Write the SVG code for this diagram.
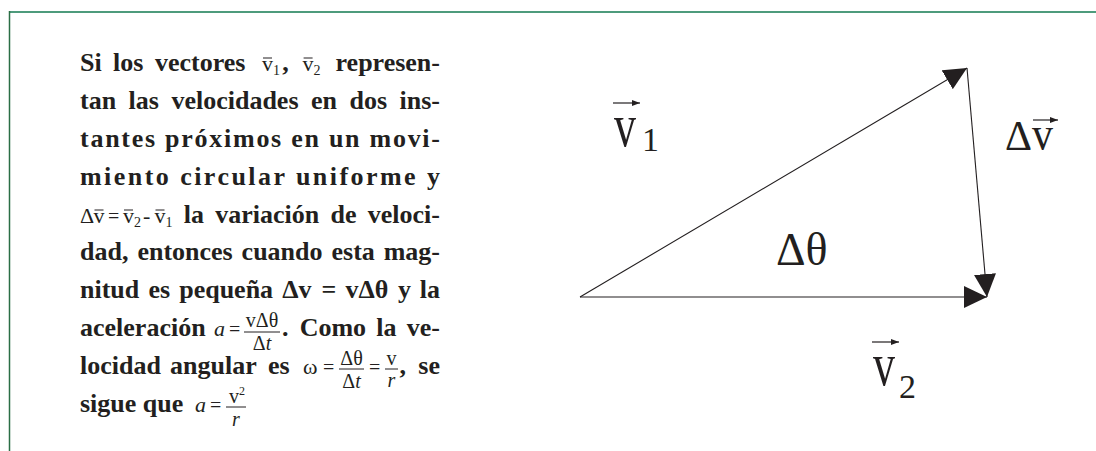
<svg xmlns="http://www.w3.org/2000/svg" width="1096" height="451" viewBox="0 0 1096 451">
<style>
.b{font-family:"Liberation Serif","Times New Roman",serif;font-weight:bold;font-size:26px;fill:#231f20}
.m{font-family:"Liberation Serif","Times New Roman",serif;font-size:22px;fill:#231f20}
.f{font-size:20px}
.mi{font-style:italic}
.s{font-size:14px}
.eq{font-size:20px}
.sup{font-size:12px}
.rule{stroke:#231f20;stroke-width:1;fill:none}
.vec{stroke:#231f20;stroke-width:1.1;fill:none}
.acc{stroke:#231f20;stroke-width:1.2;fill:none}
.lbl{font-family:"Liberation Serif","Times New Roman",serif;fill:#231f20}
</style>
<defs>
<marker id="ah" viewBox="0 0 23 22" markerWidth="23" markerHeight="22" refX="23" refY="11" orient="auto" markerUnits="userSpaceOnUse">
<path d="M0,0 L23,11 L0,22 Z" fill="#231f20"/>
</marker>
<marker id="sa" viewBox="0 0 8 6" markerWidth="8" markerHeight="6" refX="8" refY="3" orient="auto" markerUnits="userSpaceOnUse">
<path d="M0,0 L8,3 L0,6 Z" fill="#231f20"/>
</marker>
</defs>
<rect x="0" y="0" width="1096" height="451" fill="#ffffff"/>
<g id="frame">
<line x1="9" y1="12" x2="1096" y2="12" stroke="#4e9b7c" stroke-width="2"/>
<line x1="9.5" y1="11" x2="9.5" y2="451" stroke="#2a6e45" stroke-width="1.5"/>
</g>
<g id="paragraph">
<!-- line 1 -->
<text class="b" y="71"><tspan x="80">Si</tspan><tspan x="113">los</tspan><tspan x="155">vectores</tspan><tspan x="282.3">,</tspan></text>
<text class="b" x="440" y="71" text-anchor="end">represen-</text>
<text class="m" x="262" y="71">v</text><line class="rule" x1="263" y1="58" x2="272" y2="58"/><text class="m s" x="273" y="75">1</text>
<text class="m" x="302.6" y="71">v</text><line class="rule" x1="303.6" y1="58" x2="312.6" y2="58"/><text class="m s" x="313.6" y="75">2</text>
<!-- line 2 -->
<text class="b" y="109"><tspan x="80">tan</tspan><tspan x="128.6">las</tspan><tspan x="171.4">velocidades</tspan><tspan x="311">en</tspan><tspan x="349.5">dos</tspan></text>
<text class="b" x="440" y="109" text-anchor="end">ins-</text>
<!-- line 3 -->
<text class="b" x="80" y="147" textLength="360" lengthAdjust="spacing">tantes próximos en un movi-</text>
<!-- line 4 -->
<text class="b" x="80" y="185" textLength="360" lengthAdjust="spacing">miento circular uniforme y</text>
<!-- line 5 -->
<text class="m" x="80" y="223">Δ</text>
<text class="m" x="93.5" y="223">v</text><line class="rule" x1="94.5" y1="210" x2="103.5" y2="210"/>
<text class="m eq" x="108" y="223">=</text>
<text class="m" x="123" y="223">v</text><line class="rule" x1="124" y1="210" x2="133" y2="210"/><text class="m s" x="134" y="227">2</text>
<text class="m" x="143" y="223">-</text>
<text class="m" x="154.5" y="223">v</text><line class="rule" x1="155.5" y1="210" x2="164.5" y2="210"/><text class="m s" x="165.5" y="227">1</text>
<text class="b" y="223"><tspan x="183.8">la</tspan><tspan x="215.3">variación</tspan><tspan x="330.6">de</tspan></text>
<text class="b" x="440" y="223" text-anchor="end">veloci-</text>
<!-- line 6 -->
<text class="b" y="260"><tspan x="80">dad,</tspan><tspan x="137.4">entonces</tspan><tspan x="241.6">cuando</tspan><tspan x="331.5">esta</tspan></text>
<text class="b" x="440" y="260" text-anchor="end">mag-</text>
<!-- line 7 -->
<text class="b" y="298"><tspan x="80">nitud</tspan><tspan x="148.4">es</tspan><tspan x="179.2">pequeña</tspan><tspan x="282.2">Δv</tspan><tspan x="321.6">=</tspan><tspan x="345.5">vΔθ</tspan><tspan x="397.9">y</tspan></text>
<text class="b" x="440" y="298" text-anchor="end">la</text>
<!-- line 8 -->
<text class="b" x="80" y="336">aceleración</text>
<text class="m mi" x="214" y="336">a</text>
<text class="m eq" x="229" y="336">=</text>
<text class="m f" x="262" y="327" text-anchor="middle">vΔθ</text>
<line class="rule" x1="244" y1="332" x2="280" y2="332"/>
<text class="m f" x="262" y="350" text-anchor="middle">Δ<tspan class="mi">t</tspan></text>
<text class="b" y="336"><tspan x="282">.</tspan><tspan x="299.7">Como</tspan><tspan x="376.3">la</tspan></text>
<text class="b" x="440" y="336" text-anchor="end">ve-</text>
<!-- line 9 -->
<text class="b" y="374"><tspan x="80">locidad</tspan><tspan x="170">angular</tspan><tspan x="268">es</tspan></text>
<text class="m" x="303" y="374">ω</text>
<text class="m eq" x="323" y="374">=</text>
<text class="m f" x="351.5" y="365" text-anchor="middle">Δθ</text>
<line class="rule" x1="339" y1="369" x2="364" y2="369"/>
<text class="m f" x="351.5" y="388" text-anchor="middle">Δ<tspan class="mi">t</tspan></text>
<text class="m eq" x="369" y="374">=</text>
<text class="m f" x="391.5" y="365" text-anchor="middle">v</text>
<line class="rule" x1="385" y1="369" x2="398" y2="369"/>
<text class="m f mi" x="391.5" y="387" text-anchor="middle">r</text>
<text class="b" x="399.6" y="374">,</text>
<text class="b" x="440" y="374" text-anchor="end">se</text>
<!-- line 10 -->
<text class="b" y="412"><tspan x="80">sigue</tspan><tspan x="142.8">que</tspan></text>
<text class="m mi" x="195" y="412">a</text>
<text class="m eq" x="210" y="412">=</text>
<text class="m f" x="229" y="403">v<tspan class="sup" dy="-8">2</tspan></text>
<line class="rule" x1="226" y1="407" x2="246" y2="407"/>
<text class="m f mi" x="236" y="426" text-anchor="middle">r</text>
</g>
<g id="connectors">
<line class="vec" x1="580" y1="297" x2="967" y2="68" marker-end="url(#ah)"/>
<line class="vec" x1="580" y1="297" x2="987" y2="297" marker-end="url(#ah)"/>
<line class="vec" x1="967" y1="68" x2="987" y2="297" marker-end="url(#ah)"/>
</g>
<g id="label-v1">
<text class="lbl" font-size="44" transform="translate(614,146) scale(1,1.4)">v</text>
<text class="lbl" font-size="34" x="642" y="151">1</text>
<line class="acc" x1="613" y1="103" x2="640" y2="103" marker-end="url(#sa)"/>
</g>
<g id="label-v2">
<text class="lbl" font-size="44" transform="translate(873,385) scale(1,1.4)">v</text>
<text class="lbl" font-size="34" x="899" y="398">2</text>
<line class="acc" x1="872" y1="342" x2="899" y2="342" marker-end="url(#sa)"/>
</g>
<g id="label-dv">
<text class="lbl" font-size="42" x="1005" y="150">Δ</text>
<text class="lbl" font-size="42" transform="translate(1032,150) scale(1,1.15)">v</text>
<line class="acc" x1="1033" y1="120" x2="1058" y2="120" marker-end="url(#sa)"/>
</g>
<g id="label-dtheta">
<text class="lbl" font-size="46" x="776" y="265">Δθ</text>
</g>
</svg>
